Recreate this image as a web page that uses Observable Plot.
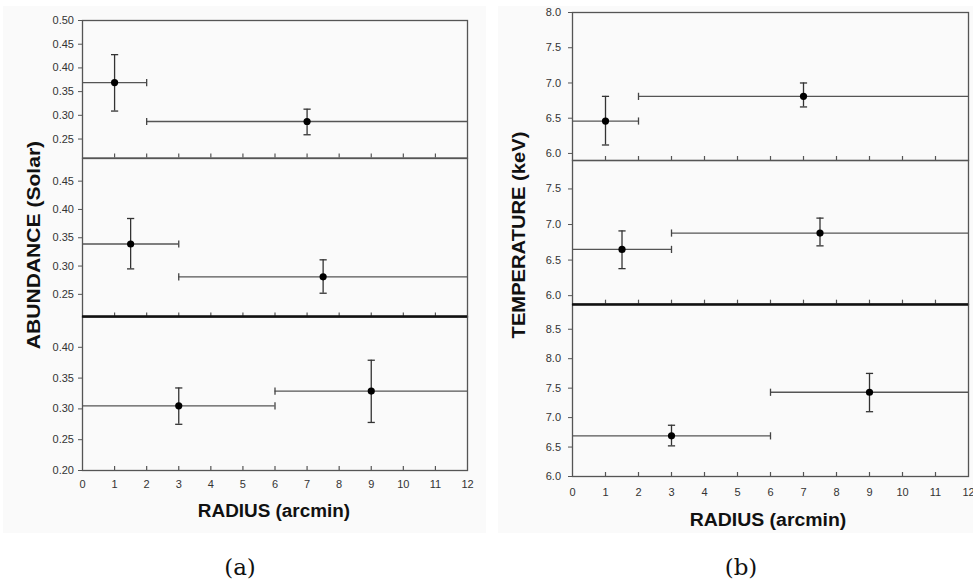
<!DOCTYPE html>
<html><head><meta charset="utf-8">
<script src="https://cdn.jsdelivr.net/npm/d3@7"></script>
<script src="https://cdn.jsdelivr.net/npm/@observablehq/plot@0.6"></script>
<style>
body{margin:0;background:#fff;}
#root{position:relative;width:973px;height:583px;overflow:hidden;font-family:"Liberation Sans",Arial,sans-serif;}
.bg{position:absolute;background:#fafafa;}
.panel{position:absolute;}
.title{position:absolute;font-weight:bold;font-size:18px;line-height:1;white-space:nowrap;color:#111;}
.cap{position:absolute;font-family:"DejaVu Serif",serif;font-size:23px;line-height:1;white-space:nowrap;color:#111;}
</style></head><body><div id="root"></div>
<script>
// ---- data ----
const radiusTicks = [0,1,2,3,4,5,6,7,8,9,10,11,12];
const radiusTop = [1, 7], radiusTopLo = [0, 2], radiusTopHi = [2, 12];
const radiusMid = [1.5, 7.5], radiusMidLo = [0, 3], radiusMidHi = [3, 12];
const radiusBot = [3, 9], radiusBotLo = [0, 6], radiusBotHi = [6, 12];

const abundTop = [0.369, 0.287], abundTopLo = [0.309, 0.259], abundTopHi = [0.428, 0.313];
const abundMid = [0.339, 0.281], abundMidLo = [0.295, 0.252], abundMidHi = [0.384, 0.311];
const abundBot = [0.305, 0.329], abundBotLo = [0.275, 0.278], abundBotHi = [0.334, 0.379];

const tempTop = [6.46, 6.81], tempTopLo = [6.12, 6.66], tempTopHi = [6.81, 7.00];
const tempMid = [6.65, 6.88], tempMidLo = [6.38, 6.70], tempMidHi = [6.91, 7.09];
const tempBot = [6.69, 7.43], tempBotLo = [6.52, 7.10], tempBotHi = [6.87, 7.75];

const abundDomTop = [0.21, 0.50], abundTicksTop = [0.25, 0.30, 0.35, 0.40, 0.45, 0.50];
const abundDomMid = [0.21, 0.49], abundTicksMid = [0.25, 0.30, 0.35, 0.40, 0.45];
const abundDomBot = [0.20, 0.45], abundTicksBot = [0.20, 0.25, 0.30, 0.35, 0.40];
const tempDomTop = [5.9, 8.0], tempTicksTop = [6.0, 6.5, 7.0, 7.5, 8.0];
const tempDomMid = [5.88, 7.9], tempTicksMid = [6.0, 6.5, 7.0, 7.5];
const tempDomBot = [6.0, 8.92], tempTicksBot = [6.0, 6.5, 7.0, 7.5, 8.0, 8.5];

// ---- rendering ----
const root = document.getElementById("root");
function addDiv(cls, css, text) {
  const d = document.createElement("div");
  d.className = cls; Object.assign(d.style, css);
  if (text) d.textContent = text;
  root.appendChild(d); return d;
}
addDiv("bg", {left:"3px", top:"6px", width:"483px", height:"527px"});
addDiv("bg", {left:"498px", top:"6px", width:"475px", height:"527px"});

const vbar = {draw(ctx, size){ const h = Math.sqrt(size/Math.PI); ctx.moveTo(0,-h); ctx.lineTo(0,h); }};
const hbar = {draw(ctx, size){ const h = Math.sqrt(size/Math.PI); ctx.moveTo(-h,0); ctx.lineTo(h,0); }};

function makePanel(o) {
  const mL = 50, mR = 8, mT = 8, mB = o.bottomAxis ? 34 : 8;
  const innerW = o.right - o.left, innerH = o.bottom - o.top;
  const data = o.xs.map((x, i) => ({x, xlo: o.xlo[i], xhi: o.xhi[i], y: o.ys[i], ylo: o.ylo[i], yhi: o.yhi[i]}));
  const xDom = [radiusTicks[0], radiusTicks[radiusTicks.length - 1]];
  const capsX = data.flatMap(d => [{x: d.xlo, y: d.y}, {x: d.xhi, y: d.y}]).filter(c => c.x > xDom[0] && c.x < xDom[1]);
  const marks = [
    Plot.frame({stroke: "#555", strokeWidth: 1.3}),
    Plot.tickX(radiusTicks.filter(t => t > xDom[0] && t < xDom[1]), {x: d => d, insetTop: innerH - 4, stroke: "#555", strokeWidth: 1.2}),
    Plot.axisY(o.yTicks, {tickSize: 4, tickPadding: o.yPad, tickFormat: o.yFormat, fontSize: 11, stroke: "#555", label: null}),
    Plot.ruleY(data, {y: "y", x1: "xlo", x2: "xhi", stroke: "#555", strokeWidth: 1.3}),
    Plot.dot(capsX, {x: "x", y: "y", symbol: vbar, r: 3.6, stroke: "#444", strokeWidth: 1.3, fill: "none"}),
    Plot.ruleX(data, {x: "x", y1: "ylo", y2: "yhi", stroke: "#333", strokeWidth: 1.3}),
    Plot.dot(data, {x: "x", y: "ylo", symbol: hbar, r: 3.6, stroke: "#333", strokeWidth: 1.3, fill: "none"}),
    Plot.dot(data, {x: "x", y: "yhi", symbol: hbar, r: 3.6, stroke: "#333", strokeWidth: 1.3, fill: "none"}),
    Plot.dot(data, {x: "x", y: "y", r: 3.6, fill: "#000", stroke: "none"})
  ];
  if (o.thickTop) marks.push(Plot.ruleY([o.yDomain[1]], {stroke: "#111", strokeWidth: 2.4}));
  if (o.bottomAxis) marks.push(Plot.axisX(radiusTicks, {tickSize: 0, tickPadding: o.xPad, fontSize: 11, label: null}));
  const svg = Plot.plot({
    width: innerW + mL + mR, height: innerH + mT + mB,
    marginLeft: mL, marginRight: mR, marginTop: mT, marginBottom: mB,
    x: {domain: xDom, axis: null},
    y: {domain: o.yDomain, axis: null},
    style: {background: "transparent", color: "#333", fontFamily: "Liberation Sans, Arial, sans-serif", overflow: "visible"},
    marks
  });
  svg.classList.add("panel");
  svg.style.position = "absolute";
  svg.style.left = (o.left - mL) + "px";
  svg.style.top = (o.top - mT) + "px";
  root.appendChild(svg);
}

const fA = d3.format(".2f"), fT = d3.format(".1f");
const LX = [81.7, 466.7], RX = [571.7, 967.7];
makePanel({left: LX[0], right: LX[1], top: 20, bottom: 157.5, yDomain: abundDomTop, yTicks: abundTicksTop, yFormat: fA, yPad: 4.5,
  xs: radiusTop, xlo: radiusTopLo, xhi: radiusTopHi, ys: abundTop, ylo: abundTopLo, yhi: abundTopHi});
makePanel({left: LX[0], right: LX[1], top: 157.5, bottom: 316, yDomain: abundDomMid, yTicks: abundTicksMid, yFormat: fA, yPad: 4.5,
  xs: radiusMid, xlo: radiusMidLo, xhi: radiusMidHi, ys: abundMid, ylo: abundMidLo, yhi: abundMidHi});
makePanel({left: LX[0], right: LX[1], top: 316, bottom: 470, yDomain: abundDomBot, yTicks: abundTicksBot, yFormat: fA, yPad: 4.5,
  xs: radiusBot, xlo: radiusBotLo, xhi: radiusBotHi, ys: abundBot, ylo: abundBotLo, yhi: abundBotHi, thickTop: true, bottomAxis: true, xPad: 9.5});
makePanel({left: RX[0], right: RX[1], top: 12.3, bottom: 160.3, yDomain: tempDomTop, yTicks: tempTicksTop, yFormat: fT, yPad: 7.5,
  xs: radiusTop, xlo: radiusTopLo, xhi: radiusTopHi, ys: tempTop, ylo: tempTopLo, yhi: tempTopHi});
makePanel({left: RX[0], right: RX[1], top: 160.3, bottom: 304, yDomain: tempDomMid, yTicks: tempTicksMid, yFormat: fT, yPad: 7.5,
  xs: radiusMid, xlo: radiusMidLo, xhi: radiusMidHi, ys: tempMid, ylo: tempMidLo, yhi: tempMidHi});
makePanel({left: RX[0], right: RX[1], top: 304, bottom: 476, yDomain: tempDomBot, yTicks: tempTicksBot, yFormat: fT, yPad: 7.5,
  xs: radiusBot, xlo: radiusBotLo, xhi: radiusBotHi, ys: tempBot, ylo: tempBotLo, yhi: tempBotHi, thickTop: true, bottomAxis: true, xPad: 11.5});

addDiv("title", {left: "273.5px", top: "511px", transform: "translate(-50%,-50%) scaleX(1.05)"}, "RADIUS (arcmin)");
addDiv("title", {left: "768px", top: "520px", transform: "translate(-50%,-50%) scaleX(1.08)"}, "RADIUS (arcmin)");
addDiv("title", {left: "34px", top: "245px", transform: "translate(-50%,-50%) rotate(-90deg) scaleX(1.17)"}, "ABUNDANCE (Solar)");
addDiv("title", {left: "519px", top: "235px", transform: "translate(-50%,-50%) rotate(-90deg) scaleX(1.12)"}, "TEMPERATURE (keV)");
addDiv("cap", {left: "240px", top: "567px", transform: "translate(-50%,-50%)"}, "(a)");
addDiv("cap", {left: "741px", top: "567px", transform: "translate(-50%,-50%)"}, "(b)");
</script>
</body></html>
